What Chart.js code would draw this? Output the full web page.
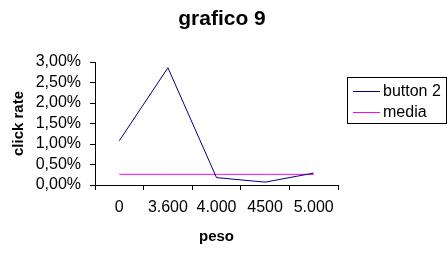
<!DOCTYPE html>
<html>
<head>
<meta charset="utf-8">
<script src="https://cdn.jsdelivr.net/npm/chart.js@4/dist/chart.umd.min.js"></script>
<style>
html,body{margin:0;padding:0;background:#fff;}
canvas{display:block;}
</style>
</head>
<body>
<canvas id="c" width="448" height="257"></canvas>
<script>
const categories = ['0', '3.600', '4.000', '4500', '5.000'];
const button2 = [0.0108, 0.0286, 0.0018, 0.0007, 0.0029];
const media = [0.0026, 0.0026, 0.0026, 0.0026, 0.0026];
const yTicks = [0, 0.005, 0.01, 0.015, 0.02, 0.025, 0.03];
const chartTitle = 'grafico 9';

const FONT = '"Liberation Sans", Arial, sans-serif';

const bgPlugin = {
  id: 'bg',
  beforeDraw(chart) {
    const ctx = chart.ctx;
    ctx.save();
    ctx.fillStyle = '#fff';
    ctx.fillRect(0, 0, chart.width, chart.height);
    ctx.restore();
  }
};

const decor = {
  id: 'decor',
  afterDraw(chart) {
    const ctx = chart.ctx;
    ctx.save();
    // title
    ctx.fillStyle = '#000';
    ctx.font = 'bold 21px ' + FONT;
    ctx.textAlign = 'center';
    ctx.textBaseline = 'alphabetic';
    ctx.fillText(chartTitle, 222, 25);
    // legend
    ctx.textAlign = 'left';
    ctx.strokeStyle = '#000';
    ctx.lineWidth = 1;
    ctx.strokeRect(347.5, 77.5, 99, 46);
    ctx.font = '16px ' + FONT;
    ctx.textBaseline = 'middle';
    const rows = [91, 112];
    chart.data.datasets.forEach((ds, i) => {
      ctx.strokeStyle = ds.borderColor;
      ctx.beginPath();
      ctx.moveTo(353, rows[i] + 0.5);
      ctx.lineTo(380, rows[i] + 0.5);
      ctx.stroke();
      ctx.fillText(ds.label, 383, rows[i] + 1);
    });
    ctx.restore();
  }
};

new Chart(document.getElementById('c'), {
  type: 'line',
  data: {
    labels: categories,
    datasets: [
      { label: 'button 2', data: button2, borderColor: '#000080', borderWidth: 1, pointRadius: 0, tension: 0, fill: false },
      { label: 'media', data: media, borderColor: '#FF00FF', borderWidth: 1, pointRadius: 0, tension: 0, fill: false }
    ]
  },
  options: {
    responsive: false,
    animation: false,
    layout: { padding: { left: 0, right: 110, top: 62, bottom: 0 } },
    plugins: {
      legend: { display: false },
      tooltip: { enabled: false },
      title: { display: false }
    },
    scales: {
      x: {
        type: 'category',
        offset: true,
        grid: { display: true, offset: true, drawOnChartArea: false, drawTicks: true, tickLength: 5, color: '#000', lineWidth: 1 },
        border: { display: true, color: '#000', width: 1 },
        ticks: { color: '#000', font: { family: FONT, size: 16 }, padding: 8, maxRotation: 0, autoSkip: false },
        title: { display: true, text: 'peso', color: '#000', font: { family: FONT, size: 15, weight: 'bold' }, padding: { top: 0, bottom: 11 } },
        afterFit(s) { s.height = 72; }
      },
      y: {
        min: 0,
        max: 0.03,
        afterBuildTicks(s) { s.ticks = yTicks.map(v => ({ value: v })); },
        grid: { display: true, drawOnChartArea: false, drawTicks: true, tickLength: 5, color: '#000', lineWidth: 1 },
        border: { display: true, color: '#000', width: 1 },
        ticks: {
          color: '#000',
          font: { family: FONT, size: 16 },
          padding: 9,
          autoSkip: false,
          callback: v => (v * 100).toFixed(2).replace('.', ',') + '%'
        },
        title: { display: true, text: 'click rate', color: '#000', font: { family: FONT, size: 15, weight: 'bold' }, padding: { top: 10, bottom: 0 } },
        afterFit(s) { s.width = 95; }
      }
    }
  },
  plugins: [bgPlugin, decor]
});
</script>
</body>
</html>
